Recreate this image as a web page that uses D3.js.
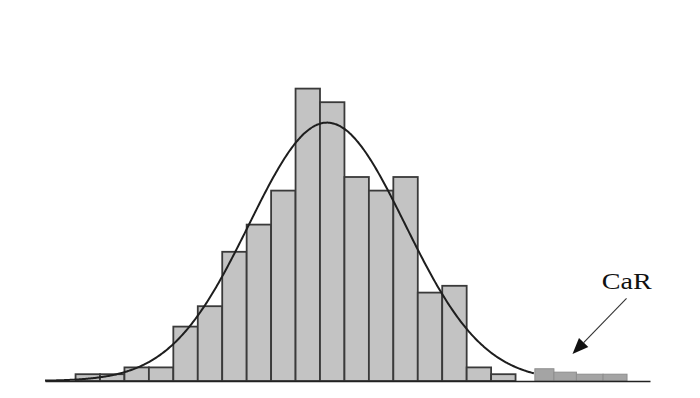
<!DOCTYPE html>
<html>
<head>
<meta charset="utf-8">
<script src="https://cdn.jsdelivr.net/npm/d3@7"></script>
<style>
  html, body { margin: 0; padding: 0; background: #fff; }
  svg { display: block; }
</style>
</head>
<body>
<svg id="chart" width="700" height="398"></svg>
<script>
// ---- data ----
const binEdges = [0,1,2,3,4,5,6,7,8,9,10,11,12,13,14,15,16,17,18];
const binCounts = [1,1,2,2,8,11,19,23,28,43,41,30,28,30,13,14,2,1];
const carEdges = [18.79, 19.57, 20.49, 21.58, 22.56];
const carCounts = [1.8, 1.3, 1, 1];
const curveMean = 10.29, curveSd = 3.19, curvePeak = 38;
const curveStart = -1.25, curveEnd = 18.79;
const annotationLabel = "CaR";

// ---- scales ----
const svg = d3.select("#chart");
const x = d3.scaleLinear().domain([-1.25, 23.5]).range([45, 650]);
const y = d3.scaleLinear().domain([0, 50]).range([381, 41]);

// main histogram bars
const bars = binCounts.map((c, i) => ({x0: binEdges[i], x1: binEdges[i] + 1, c}));
svg.append("g").selectAll("rect").data(bars).join("rect")
  .attr("x", d => x(d.x0))
  .attr("y", d => y(d.c))
  .attr("width", d => x(d.x1) - x(d.x0))
  .attr("height", d => y(0) - y(d.c))
  .attr("fill", "#c3c3c3")
  .attr("stroke", "#3a3a3a")
  .attr("stroke-width", 1.8);

// fitted normal curve
const pts = d3.range(curveStart, curveEnd + 0.001, 0.05).map(u => [u, curvePeak * Math.exp(-0.5 * Math.pow((u - curveMean) / curveSd, 2))]);
svg.append("path").datum(pts)
  .attr("d", d3.line().x(d => x(d[0])).y(d => y(d[1])).curve(d3.curveBasis))
  .attr("fill", "none")
  .attr("stroke", "#1e1e1e")
  .attr("stroke-width", 2);

// CaR tail bars
const car = carCounts.map((c, i) => ({x0: carEdges[i], x1: carEdges[i + 1], c}));
svg.append("g").selectAll("rect").data(car).join("rect")
  .attr("x", d => x(d.x0))
  .attr("y", d => y(d.c))
  .attr("width", d => x(d.x1) - x(d.x0))
  .attr("height", d => y(0) - y(d.c))
  .attr("fill", "#a4a4a4")
  .attr("stroke", "#8e8e8e")
  .attr("stroke-width", 1);

// baseline axis
const axis = d3.axisBottom(x).tickValues([]).tickSizeOuter(0);
const gAx = svg.append("g").attr("transform", `translate(0,${y(0)})`).call(axis);
gAx.select(".domain").attr("stroke", "#222").attr("stroke-width", 1.6);

// annotation arrow
const ax0 = x(22.54), ay0 = y(12.16);
const ax1 = x(20.33), ay1 = y(3.97);
const ang = Math.atan2(ay1 - ay0, ax1 - ax0);
const headLen = 16, headW = 6.5;
const bx = ax1 - headLen * Math.cos(ang), by = ay1 - headLen * Math.sin(ang);
svg.append("line")
  .attr("x1", ax0).attr("y1", ay0).attr("x2", bx).attr("y2", by)
  .attr("stroke", "#333").attr("stroke-width", 1.1);
svg.append("path")
  .attr("d", `M${ax1},${ay1} L${bx + headW * Math.sin(ang)},${by - headW * Math.cos(ang)} L${bx - headW * Math.sin(ang)},${by + headW * Math.cos(ang)} Z`)
  .attr("fill", "#111");

svg.append("text")
  .attr("x", x(22.55)).attr("y", y(13.57))
  .attr("text-anchor", "middle")
  .attr("font-family", "'Liberation Serif', 'Times New Roman', serif")
  .attr("font-size", 23)
  .attr("textLength", 50)
  .attr("lengthAdjust", "spacingAndGlyphs")
  .attr("fill", "#111")
  .text(annotationLabel);
</script>
</body>
</html>
